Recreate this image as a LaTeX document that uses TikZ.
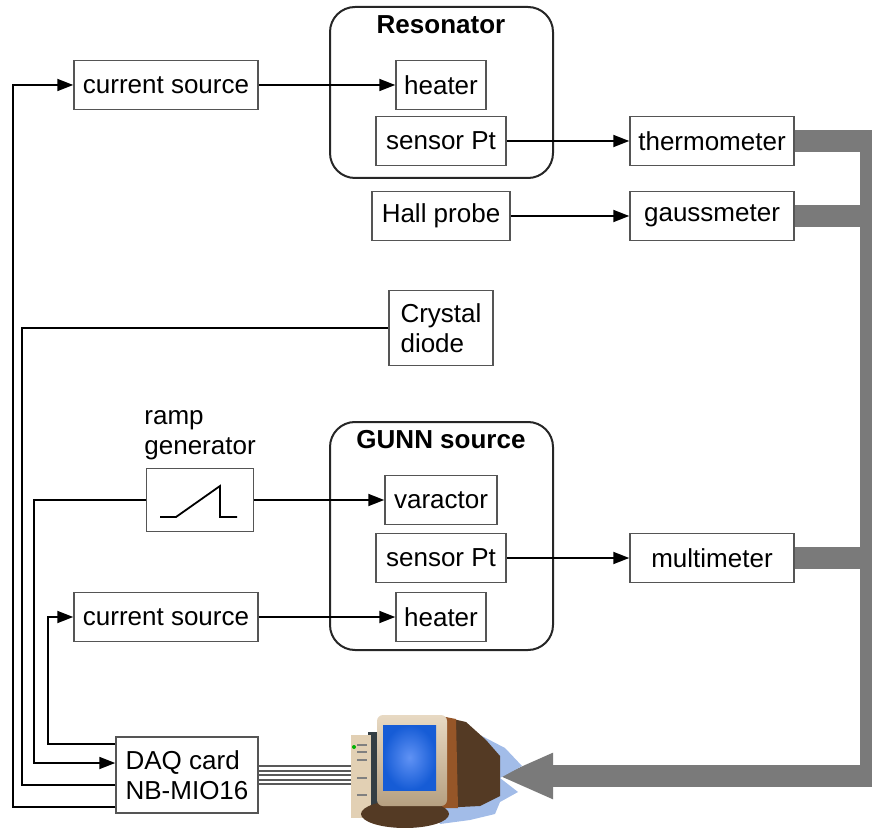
\documentclass[tikz,border=0pt]{standalone}
\usepackage{fontspec}
\setmainfont{Liberation Sans}
\usetikzlibrary{arrows.meta}

\definecolor{busgray}{RGB}{122,122,122}
\definecolor{framegray}{RGB}{85,85,85}
\definecolor{shadowblue}{RGB}{162,188,232}
\definecolor{beige}{RGB}{226,208,180}
\definecolor{bezel}{RGB}{214,188,152}
\definecolor{towerdark}{RGB}{52,62,68}
\definecolor{brownback}{RGB}{84,58,36}
\definecolor{brownlight}{RGB}{150,86,40}
\definecolor{screenlight}{RGB}{96,146,244}
\definecolor{screenblue}{RGB}{22,92,214}

\tikzset{
    every node/.style={font=\fontsize{13pt}{15pt}\selectfont},
    block/.style={draw=framegray, line width=0.75pt, fill=white, minimum height=24.5pt, inner sep=3pt},
    unit/.style={draw=black!85, line width=1pt, rounded corners=12.5pt},
    wire/.style={black, line width=0.9pt},
    sig/.style={wire, -{Triangle[length=8pt,width=6pt]}},
    bus/.style={busgray, line width=11pt},
}

\begin{document}
\begin{tikzpicture}[x=0.5pt,y=-0.5pt]
        \useasboundingbox (0,0) rectangle (872,828);

        % the two units with their parts
        \draw[unit] (330,7) rectangle (553,178);
        \node[font=\fontsize{13pt}{15pt}\bfseries] (resotitle) at (441,25) {Resonator};
        \draw[unit] (330,422) rectangle (553,650);
        \node[font=\fontsize{13pt}{15pt}\bfseries] (gunntitle) at (441,440) {GUNN source};

        \node[block, minimum width=92pt] (cs1) at (166,85) {current source};
        \node[block, minimum width=45pt] (heat1) at (441,85) {heater};
        \node[block, minimum width=65pt] (sens1) at (441,141) {sensor Pt};
        \node[block, minimum width=82pt] (thermo) at (712,141) {thermometer};
        \node[block, minimum width=69pt] (hall) at (441,216) {Hall probe};
        \node[block, minimum width=82pt] (gauss) at (712,216) {gaussmeter};
        \node[block, minimum width=52pt, minimum height=37.5pt, align=left] (diode) at (441,328) {Crystal\\diode};

        \node[block, minimum width=53.5pt, minimum height=31.5pt] (ramp) at (200,500) {};
        \node[anchor=south west, align=left, inner sep=0pt] (ramplbl) at (144,460) {ramp\\generator};
        \draw[wire] (ramp.center) ++(-40,17) -- ++(16,0) -- ++(44,-31) -- ++(0,31) -- ++(17,0);

        \node[block, minimum width=56pt] (varac) at (441,500) {varactor};
        \node[block, minimum width=65pt] (sens2) at (441,558) {sensor Pt};
        \node[block, minimum width=82pt] (multi) at (712,558) {multimeter};
        \node[block, minimum width=92pt] (cs2) at (166,617) {current source};
        \node[block, minimum width=45pt] (heat2) at (441,617) {heater};
        \node[block, minimum width=71pt, minimum height=38pt, align=left] (daq) at (187,775) {DAQ card\\NB-MIO16};
        \coordinate (pcin) at (498,776);

        % signal lines
        \draw[sig] (cs1.east) -- (heat1.west);
        \draw[sig] (sens1.east) -- (thermo.west);
        \draw[sig] (hall.east) -- (gauss.west);
        \draw[sig] (ramp.east) -- (varac.west);
        \draw[sig] (sens2.east) -- (multi.west);
        \draw[sig] (cs2.east) -- (heat2.west);

        % DAQ card wiring on the left
        \draw[sig] ([shift={(0,32)}]daq.west) -| (13,85) -- (cs1.west);
        \draw[wire] ([shift={(0,10)}]daq.west) -| (22,328) -- (diode.west);
        \draw[sig] (ramp.west) -| (34,763) -- ([shift={(0,-12)}]daq.west);
        \draw[sig] ([shift={(0,-31)}]daq.west) -| (48,617) -- (cs2.west);

        % instrument bus back to the computer
        \draw[bus, -{Triangle[length=27.5pt,width=21pt]}] (thermo.east) -- (871,141) |- (pcin);
        \draw[bus] (gauss.east) -- (871,216);
        \draw[bus] (multi.east) -- (871,558);

        % ribbon cable
        \foreach \dy in {-9,-4.5,0,4.5,9}
            \draw[black!65, line width=1pt] ([shift={(0,\dy)}]daq.east) -- ++(96,0);

        % computer
        \fill[shadowblue] (450,722) -- (480,735) -- (505,748) -- (522,766) -- (500,778) -- (518,792) -- (500,802) -- (495,814) -- (470,820) -- (440,824) -- (430,800) -- cycle;
        \fill[towerdark] (368,732) rectangle (385,816);
        \fill[beige] (351,735) rectangle (371,818);
        \foreach \ty in {745,752,760,778,795}
            \draw[black!50, line width=0.6pt] (357,\ty) -- (367,\ty);
        \fill[green!70!black] (354,747) circle (1pt);
        \fill[brownback] (440,716) -- (466,722) -- (486,740) -- (500,756) -- (500,796) -- (480,806) -- (440,808) -- cycle;
        \fill[brownlight] (440,716) -- (456,719) -- (458,808) -- (440,808) -- cycle;
        \fill[brownback] (405,814) ellipse [x radius=22pt, y radius=7pt];
        \shade[top color=beige!80!white, bottom color=bezel!85!black, rounded corners=3pt] (377,715) rectangle (447,806);
        \shade[inner color=screenlight, outer color=screenblue] (383,725) rectangle (436,790);
    \end{tikzpicture}
\end{document}
